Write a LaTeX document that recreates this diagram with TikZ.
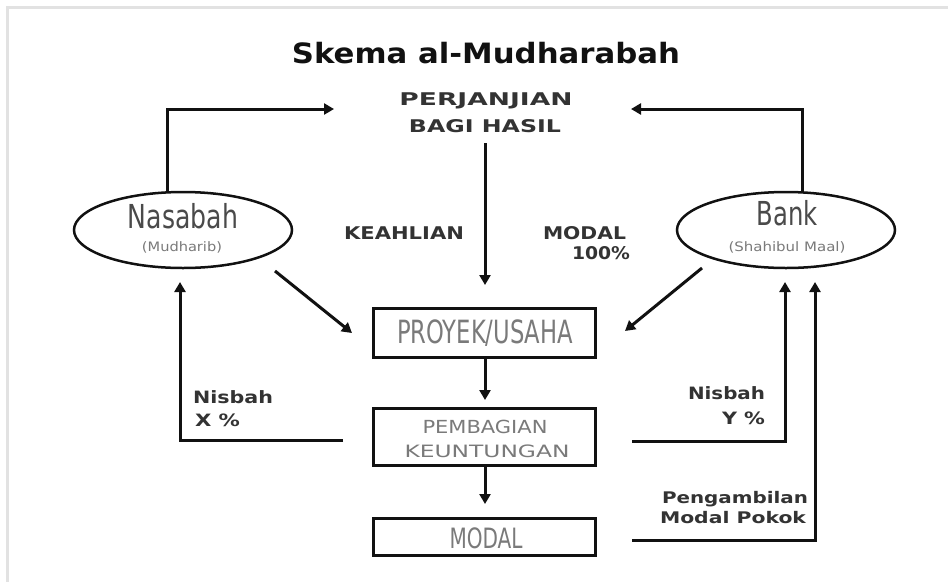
\documentclass[tikz,border=0pt]{standalone}
\usepackage{fontspec}
\usepackage{graphicx}
\setmainfont{DejaVu Sans}
\newfontfamily\condf{DejaVu Sans Condensed}
\usetikzlibrary{arrows.meta,shapes.geometric}
\newcommand{\fw}[2]{\resizebox{#1}{\height}{#2}}
\newcommand{\fsz}[1]{\fontsize{#1}{#1}\selectfont}
\definecolor{inkc}{HTML}{111111}
\definecolor{boxtxt}{HTML}{7A7A7A}
\definecolor{elltxt}{HTML}{4A4A4A}
\definecolor{lbltxt}{HTML}{333333}
\definecolor{framec}{HTML}{E2E2E2}
\tikzset{
  txt/.style={inner sep=0pt, outer sep=0pt},
  conn/.style={draw=inkc, line width=3pt},
  arr/.style={conn, -{Triangle[length=10pt,width=11pt]}},
  boxn/.style={draw=inkc, line width=3pt, minimum width=222pt, inner sep=0pt},
  elln/.style={ellipse, draw=inkc, line width=2.5pt, minimum width=218pt, minimum height=76pt, inner sep=0pt},
}
\begin{document}
\begin{tikzpicture}[x=1pt,y=-1pt]
\useasboundingbox (0,0) rectangle (948,582);
\fill[white] (0,0) rectangle (948,582);
% frame
\draw[framec, line width=3pt] (7,582) -- (7,7) -- (948,7);

% title
\node[txt, text=inkc] (title) at (486,53) {\fw{388pt}{\condf\bfseries\fsz{28}Skema al-Mudharabah}};

% agreement
\node[txt, text=lbltxt] (perj1) at (486,101) {\fw{173pt}{\bfseries\fsz{17.5}PERJANJIAN}};
\node[txt, text=lbltxt] (perj2) at (485,126) {\fw{152pt}{\bfseries\fsz{17.5}BAGI HASIL}};

% ellipses
\node[elln] (nas) at (183,230) {};
\node[txt, text=elltxt] (nast) at (183,216) {\fw{110pt}{\condf\fsz{33}Nasabah}};
\node[txt, text=boxtxt] (nass) at (182,247) {\fw{80pt}{\condf\fsz{13}(Mudharib)}};

\node[elln] (bank) at (786,230) {};
\node[txt, text=elltxt] (bankt) at (787,213) {\fw{61pt}{\condf\fsz{33}Bank}};
\node[txt, text=boxtxt] (banks) at (787,247) {\fw{117pt}{\condf\fsz{13}(Shahibul Maal)}};

% boxes
\node[boxn, minimum height=49pt] (proj) at (484,332.5) {};
\node[txt, text=boxtxt] at (485,333) {\fw{176pt}{\condf\fsz{32}PROYEK/USAHA}};

\node[boxn, minimum height=57pt] (bagi) at (484,436.5) {};
\node[txt, text=boxtxt] at (485,427) {\fw{125pt}{\condf\fsz{18}PEMBAGIAN}};
\node[txt, text=boxtxt] at (487,451) {\fw{165pt}{\condf\fsz{17}KEUNTUNGAN}};

\node[boxn, minimum height=37pt] (modal) at (484,536.5) {};
\node[txt, text=boxtxt] at (486,538) {\fw{73pt}{\condf\fsz{28}MODAL}};

% labels
\node[txt, text=lbltxt] (keah) at (404,233) {\fw{120pt}{\bfseries\fsz{17.5}KEAHLIAN}};
\node[txt, text=lbltxt, anchor=east] (mod1) at (626,233) {\fw{83pt}{\bfseries\fsz{17.5}MODAL}};
\node[txt, text=lbltxt, anchor=east] (mod2) at (630,253) {\fw{58pt}{\bfseries\fsz{17.5}100\%}};

\node[txt, text=lbltxt, anchor=west] (nx1) at (193,397) {\fw{80pt}{\bfseries\fsz{17}Nisbah}};
\node[txt, text=lbltxt, anchor=west] (nx2) at (195,420) {\fw{45pt}{\bfseries\fsz{17}X \%}};
\node[txt, text=lbltxt, anchor=east] (ny1) at (765,393) {\fw{77pt}{\bfseries\fsz{17}Nisbah}};
\node[txt, text=lbltxt, anchor=east] (ny2) at (765,418) {\fw{43pt}{\bfseries\fsz{17}Y \%}};

\node[txt, text=lbltxt, anchor=east] (pa1) at (808,499) {\fw{146pt}{\bfseries\fsz{16}Pengambilan}};
\node[txt, text=lbltxt, anchor=east] (pa2) at (806,518) {\fw{146pt}{\bfseries\fsz{16}Modal Pokok}};

% connector end points
\coordinate (l0) at (167,192);
\coordinate (l1) at (167,109);
\coordinate (l2) at (334,109);
\coordinate (r0) at (802,192);
\coordinate (r1) at (802,109);
\coordinate (r2) at (631,109);
\coordinate (c0) at (485,143);
\coordinate (c1) at (485,285);
\coordinate (dl0) at (275,271);
\coordinate (dl1) at (352,333);
\coordinate (dr0) at (702,268);
\coordinate (dr1) at (625,331);
\coordinate (a0) at (485,357);
\coordinate (a1) at (485,400);
\coordinate (b0) at (485,465);
\coordinate (b1) at (485,504);
\coordinate (nl0) at (343,440);
\coordinate (nl1) at (180,440);
\coordinate (nl2) at (180,282);
\coordinate (nr0) at (632,441);
\coordinate (nr1) at (785,441);
\coordinate (nr2) at (785,282);
\coordinate (pm0) at (632,540);
\coordinate (pm1) at (815,540);
\coordinate (pm2) at (815,282);

\draw[arr] (l0) -- (l1) -- (l2);
\draw[arr] (r0) -- (r1) -- (r2);
\draw[arr] (c0) -- (c1);
\draw[arr] (dl0) -- (dl1);
\draw[arr] (dr0) -- (dr1);
\draw[arr] (a0) -- (a1);
\draw[arr] (b0) -- (b1);
\draw[arr] (nl0) -- (nl1) -- (nl2);
\draw[arr] (nr0) -- (nr1) -- (nr2);
\draw[arr] (pm0) -- (pm1) -- (pm2);
\end{tikzpicture}
\end{document}
